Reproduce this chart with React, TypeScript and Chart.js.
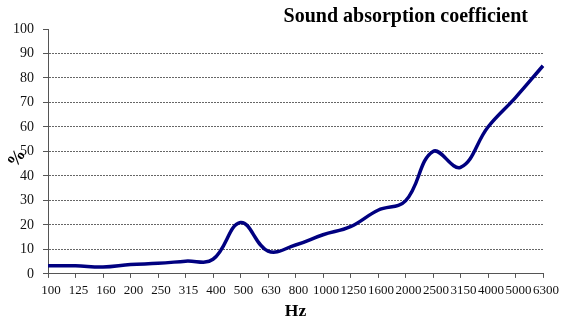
import React, { useEffect, useRef } from "react";
import { Chart, registerables } from "chart.js";

Chart.register(...registerables);

const frequencies = ["100", "125", "160", "200", "250", "315", "400", "500", "630", "800", "1000", "1250", "1600", "2000", "2500", "3150", "4000", "5000", "6300"];
const absorption = [3.3, 3.3, 2.8, 3.8, 4.3, 5.2, 6.0, 21.0, 9.3, 11.8, 16.0, 19.3, 26.0, 29.8, 50.0, 43.5, 60.0, 72.0, 85.0];
const yTicks = [0, 10, 20, 30, 40, 50, 60, 70, 80, 90, 100];
const chartTitle = "Sound absorption coefficient";
const xTitle = "Hz";
const yTitle = "%";

const serif = "'Liberation Serif', 'Times New Roman', serif";

const titlePlugin = {
  id: "customTitles",
  afterDraw(chart: any) {
    const ctx = chart.ctx;
    ctx.save();
    ctx.font = `bold 20px ${serif}`;
    ctx.fillStyle = "#000";
    ctx.textAlign = "right";
    ctx.textBaseline = "middle";
    ctx.fillText(chartTitle, chart.chartArea.right - 15, 17);
    ctx.translate(17, (chart.chartArea.top + chart.chartArea.bottom) / 2 + 7);
    ctx.rotate(-Math.PI * 0.3);
    ctx.textAlign = "center";
    ctx.font = `bold 18px ${serif}`;
    ctx.fillText(yTitle, 0, 0);
    ctx.restore();
  },
};

export default function App() {
  const ref = useRef<HTMLCanvasElement>(null);
  useEffect(() => {
    if (!ref.current) return;
    const chart = new Chart(ref.current, {
      type: "line",
      data: {
        labels: frequencies,
        datasets: [
          {
            data: absorption,
            borderColor: "#000080",
            borderWidth: 3.5,
            pointRadius: 0,
            tension: 0.4,
            fill: false,
          },
        ],
      },
      options: {
        animation: false,
        responsive: false,
        devicePixelRatio: 1,
        layout: { padding: { top: 29, right: 25, left: 4, bottom: 0 } },
        plugins: { legend: { display: false }, tooltip: { enabled: false }, title: { display: false } },
        scales: {
          x: {
            offset: false,
            grid: { drawOnChartArea: false, drawTicks: true, tickLength: 4, tickColor: "#555" },
            border: { display: true, color: "#555", width: 1 },
            ticks: { color: "#111", font: { family: serif, size: 13 }, maxRotation: 0, autoSkip: false, padding: 5, labelOffset: 3 },
            title: { display: true, text: xTitle, color: "#000", font: { family: serif, size: 17.5, weight: "bold", lineHeight: 1 }, padding: { top: -1, bottom: 0 } },
          },
          y: {
            min: 0,
            max: 100,
            afterBuildTicks: (axis: any) => {
              axis.ticks = yTicks.map((v) => ({ value: v }));
            },
            grid: {
              color: (c: any) => (c.tick && (c.tick.value === 0 || c.tick.value === 100) ? "rgba(0,0,0,0)" : "#666"),
              tickColor: "#555",
              tickLength: 5,
              lineWidth: 1,
            },
            border: { display: true, color: "#555", width: 1, dash: [2, 1] },
            ticks: { color: "#111", font: { family: serif, size: 14 }, padding: 9 },
            title: { display: false },
          },
        },
      },
      plugins: [titlePlugin],
    } as any);
    return () => chart.destroy();
  }, []);
  return (
    <div style={{ position: "absolute", left: 0, top: 0, width: 568, height: 320 }}>
      <canvas ref={ref} width={568} height={320} style={{ display: "block" }} />
    </div>
  );
}
